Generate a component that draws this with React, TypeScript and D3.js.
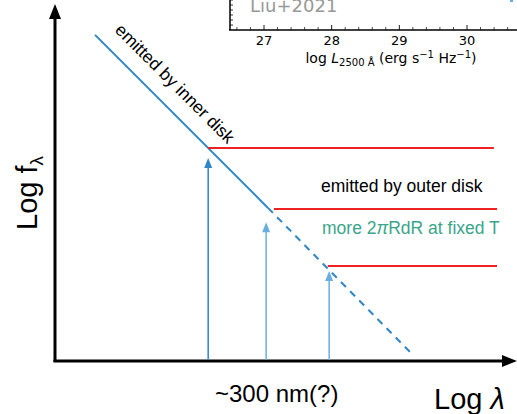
import React from "react";
import * as d3 from "d3";

const W = 517, H = 414;

// abstract chart units (log lambda, log f)
const innerSolid = [ { x: 0.87, y: 9.16 }, { x: 4.63, y: 4.30 } ];
const innerDashed = [ { x: 4.63, y: 4.30 }, { x: 7.72, y: 0.25 } ];
const outerLevels = [
  { y: 5.98, x0: 3.33, x1: 9.54 },
  { y: 4.27, x0: 4.76, x1: 9.61 },
  { y: 2.67, x0: 5.93, x1: 9.61 },
];
const arrows = [
  { x: 3.33, tip: 5.70, color: "#2f86c8" },
  { x: 4.59, tip: 3.90, color: "#6aaee0" },
  { x: 5.96, tip: 2.53, color: "#6aaee0" },
];
const insetTicks = [27, 28, 29, 30];

const x = d3.scaleLinear().domain([0, 10]).range([55, 515]);
const y = d3.scaleLinear().domain([0, 10]).range([361, 5]);
const xi = d3.scaleLinear().domain([27, 30]).range([264, 467]);

export default function App() {
  const line = d3.line<{ x: number; y: number }>().x(d => x(d.x)).y(d => y(d.y));
  const minor = d3.range(26.6, 30.8, 0.2).filter(v => Math.abs(v - Math.round(v)) > 0.01);
  const leftMinor = d3.range(0, 28, 5);
  return (
    <svg width={W} height={H} style={{ position: "absolute", left: 0, top: 0, background: "#fff" }}
      fontFamily="'Liberation Sans', Arial, sans-serif">
      {/* inset */}
      <g>
        <line x1={230} y1={-2} x2={230} y2={30} stroke="#000" strokeWidth={1.5} />
        <line x1={229} y1={30} x2={W + 2} y2={30} stroke="#000" strokeWidth={1.5} />
        {leftMinor.map(v => <line key={"l" + v} x1={230} x2={233} y1={v} y2={v} stroke="#000" strokeWidth={0.8} />)}
        {insetTicks.map(t => <line key={"t" + t} x1={xi(t)} x2={xi(t)} y1={30} y2={25} stroke="#000" strokeWidth={0.9} />)}
        {minor.map(t => <line key={"m" + t} x1={xi(t)} x2={xi(t)} y1={30} y2={27} stroke="#000" strokeWidth={0.7} />)}
        {insetTicks.map(t => (
          <text key={"tl" + t} x={xi(t)} y={45} textAnchor="middle" fontSize={13} fontFamily="'DejaVu Sans', sans-serif">{t}</text>
        ))}
        <text x={391} y={63} textAnchor="middle" fontSize={14} fontFamily="'DejaVu Sans', sans-serif">
          log <tspan fontStyle="italic">L</tspan><tspan fontSize={10} dy={3}>2500 Å</tspan>
          <tspan dy={-3}> (erg s</tspan><tspan fontSize={10} dy={-5}>−1</tspan><tspan dy={5}> Hz</tspan>
          <tspan fontSize={10} dy={-5}>−1</tspan><tspan dy={5}>)</tspan>
        </text>
        <text x={250} y={12} fontSize={18} fill="#999" fontFamily="'DejaVu Sans', sans-serif">Liu+2021</text>
        <rect x={510} y={0} width={3} height={2} fill="#6aaee0" />
      </g>

      {/* axes */}
      <line x1={55} y1={362} x2={55} y2={14} stroke="#000" strokeWidth={3} />
      <path d="M49,19 L55,4 L61,19 Z" fill="#000" />
      <line x1={53.5} y1={361} x2={505} y2={361} stroke="#000" strokeWidth={3} />
      <path d="M502,355 L517,361 L502,367 Z" fill="#000" />

      {/* inner disk */}
      <path d={line(innerSolid) || ""} stroke="#2f86c8" strokeWidth={2} fill="none" />
      <path d={line(innerDashed) || ""} stroke="#2f86c8" strokeWidth={2} fill="none" strokeDasharray="7,6" />

      {/* outer disk levels */}
      {outerLevels.map((l, i) => (
        <line key={i} x1={x(l.x0)} x2={x(l.x1)} y1={y(l.y)} y2={y(l.y)} stroke="#ee2222" strokeWidth={2} />
      ))}

      {/* arrows */}
      {arrows.map((a, i) => (
        <g key={i}>
          <line x1={x(a.x)} x2={x(a.x)} y1={360} y2={y(a.tip) + 8} stroke={a.color} strokeWidth={1.5} />
          <path d={`M${x(a.x) - 4},${y(a.tip) + 10} L${x(a.x)},${y(a.tip)} L${x(a.x) + 4},${y(a.tip) + 10} Z`} fill={a.color} />
        </g>
      ))}

      {/* labels */}
      <text transform="translate(114,31) rotate(45)" fontSize={17.5}>emitted by inner disk</text>
      <text x={321} y={192} fontSize={17.5}>emitted by outer disk</text>
      <text x={322} y={234} fontSize={17.5} fill="#3aa58a">more 2<tspan fontStyle="italic">π</tspan>RdR at fixed T</text>
      <text x={215} y={402} fontSize={24}>~300 nm(?)</text>
      <text x={434} y={409} fontSize={29}>Log <tspan fontStyle="italic">λ</tspan></text>
      <text transform="translate(37,193) rotate(-90)" textAnchor="middle" fontSize={29}>Log f<tspan fontSize={19} dy={6}>λ</tspan></text>
    </svg>
  );
}
